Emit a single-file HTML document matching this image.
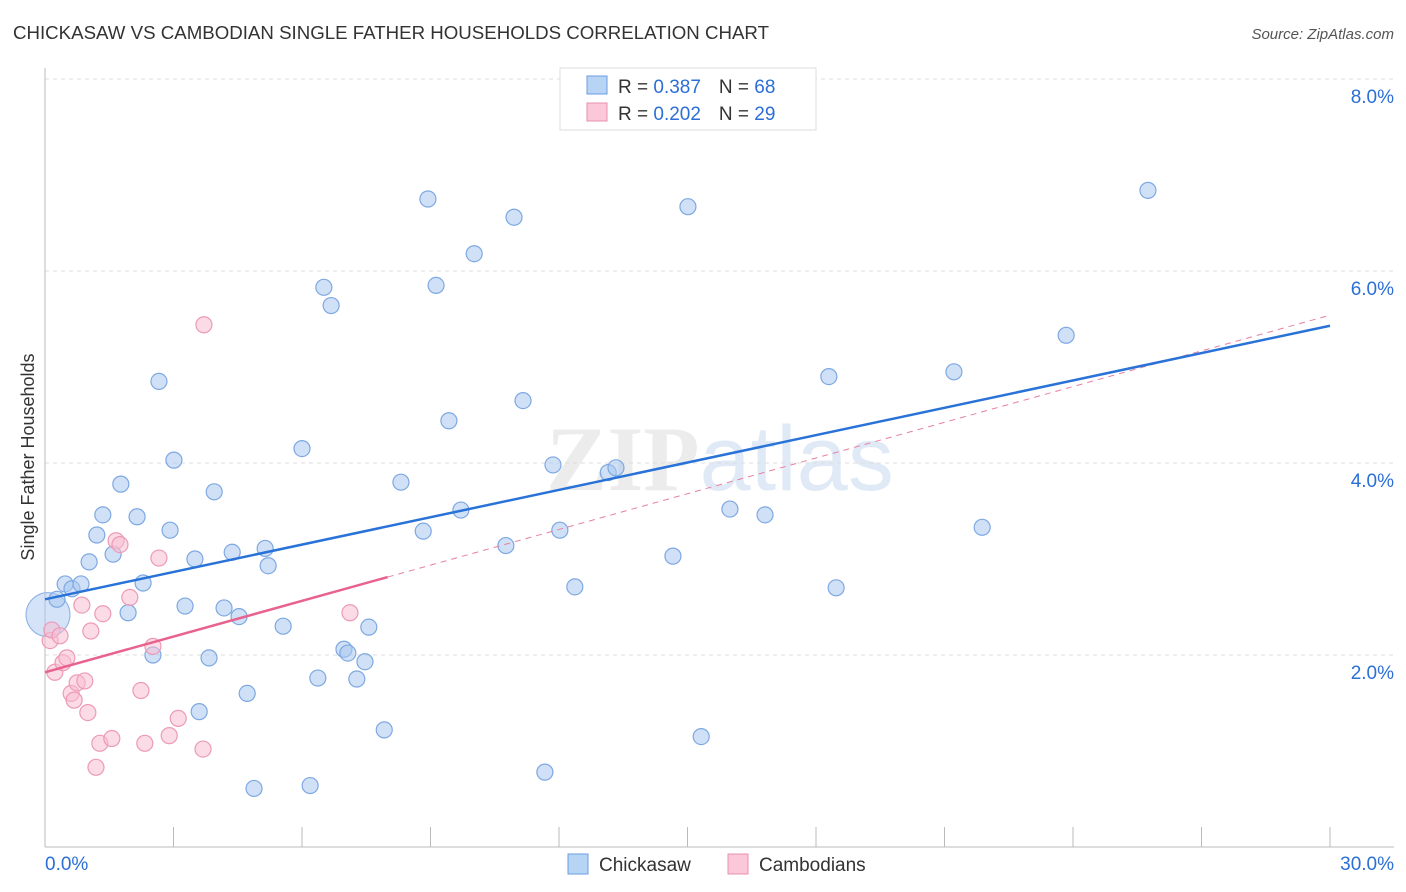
<!DOCTYPE html>
<html><head><meta charset="utf-8"><style>
body{margin:0;background:#fff;font-family:"Liberation Sans",sans-serif;}
svg{display:block}
</style></head><body>
<svg id="chart" width="1406" height="892">
<text x="13" y="39" font-size="18.5" fill="#333" textLength="756" lengthAdjust="spacingAndGlyphs">CHICKASAW VS CAMBODIAN SINGLE FATHER HOUSEHOLDS CORRELATION CHART</text>
<text x="1394" y="39" font-size="15" fill="#555" text-anchor="end" font-style="italic">Source: ZipAtlas.com</text>
<text x="720" y="490" font-size="92" fill="#ececec" text-anchor="middle" font-family="Liberation Serif,serif" font-weight="bold">ZIP<tspan fill="#e0eaf6" font-family="Liberation Sans,sans-serif" font-weight="normal">atlas</tspan></text>
<g id="grid"></g>
<g id="axes"></g>
<g id="marks"></g>
<text transform="translate(34,457) rotate(-90)" font-size="18" fill="#333" text-anchor="middle">Single Father Households</text>
<g>
<rect x="560" y="68" width="256" height="62" fill="#fff" stroke="#ddd"/>
<rect x="587" y="76" width="20" height="18" fill="#b8d4f5" stroke="#6a9be0"/>
<text x="618" y="93" font-size="19" fill="#333">R = <tspan fill="#2b6fd6">0.387</tspan><tspan dx="18">N = </tspan><tspan fill="#2b6fd6">68</tspan></text>
<rect x="587" y="103" width="20" height="18" fill="#fac8d8" stroke="#e890ac"/>
<text x="618" y="120" font-size="19" fill="#333">R = <tspan fill="#2b6fd6">0.202</tspan><tspan dx="18">N = </tspan><tspan fill="#2b6fd6">29</tspan></text>
</g>
<g>
<rect x="568" y="854" width="20" height="20" fill="#b8d4f5" stroke="#6a9be0"/>
<text x="599" y="871" font-size="19" fill="#333">Chickasaw</text>
<rect x="728" y="854" width="20" height="20" fill="#fac8d8" stroke="#e890ac"/>
<text x="759" y="871" font-size="19" fill="#333">Cambodians</text>
</g>
</svg>
<script>
const xTicks=[0,30];
const yTicks=[2,4,6,8];
const blueX=[0.28,0.47,0.63,0.84,1.03,1.21,1.35,1.59,1.77,1.94,2.15,2.29,2.52,2.66,2.92,3.01,3.27,3.50,3.60,3.83,3.95,4.18,4.37,4.53,4.72,4.88,5.14,5.21,5.56,6.00,6.19,6.37,6.51,6.68,6.98,7.07,7.28,7.47,7.56,7.92,8.31,8.83,8.94,9.13,9.43,9.71,10.02,10.76,10.95,11.16,11.67,11.86,12.02,12.37,13.15,13.33,14.66,15.01,15.32,15.99,16.81,18.30,18.47,21.22,21.88,23.84,25.75];
const blueY=[2.58,2.74,2.69,2.74,2.97,3.25,3.46,3.05,3.78,2.44,3.44,2.75,2.00,4.85,3.30,4.03,2.51,3.00,1.41,1.97,3.70,2.49,3.07,2.40,1.60,0.61,3.11,2.93,2.30,4.15,0.64,1.76,5.83,5.64,2.06,2.02,1.75,1.93,2.29,1.22,3.80,3.29,6.75,5.85,4.44,3.51,6.18,3.14,6.56,4.65,0.78,3.98,3.30,2.71,3.90,3.95,3.03,6.67,1.15,3.52,3.46,4.90,2.70,4.95,3.33,5.33,6.84];
const pinkX=[0.12,0.16,0.23,0.35,0.42,0.51,0.61,0.68,0.75,0.86,0.93,1.00,1.07,1.19,1.28,1.35,1.56,1.66,1.75,1.98,2.24,2.33,2.52,2.66,2.90,3.11,3.69,3.71,7.12];
const pinkY=[2.15,2.26,1.82,2.20,1.92,1.97,1.60,1.53,1.71,2.52,1.73,1.40,2.25,0.83,1.08,2.43,1.13,3.19,3.15,2.60,1.63,1.08,2.09,3.01,1.16,1.34,1.02,5.44,2.44];
const blueTrend=[2.58,5.43];
const pinkTrend=[1.82,5.54];
const pinkSolidEnd=8.0;
const sx=v=>45+v*(1285/30), sy=v=>847-v*96;
const NS="http://www.w3.org/2000/svg";
function mk(tag,attrs,parent){const e=document.createElementNS(NS,tag);for(const k in attrs)e.setAttribute(k,attrs[k]);parent.appendChild(e);return e;}
const grid=document.getElementById('grid'),axes=document.getElementById('axes'),marks=document.getElementById('marks');
yTicks.forEach(t=>{
 const l=mk('line',{x1:45,x2:1394,y1:sy(t),y2:sy(t),stroke:'#ddd','stroke-dasharray':'4,4'},grid);
 
 
 const tx=mk('text',{x:1394,y:sy(t)+24,'font-size':19,fill:'#2b6fd6','text-anchor':'end'},axes);
 tx.textContent=t.toFixed(1)+'%';
 
 
});
mk('line',{x1:45,x2:45,y1:68,y2:847,stroke:'#bbb'},axes);
mk('line',{x1:45,x2:1394,y1:847,y2:847,stroke:'#bbb'},axes);
for(let i=1;i<=10;i++){const x=sx(i*3);mk('line',{x1:x,x2:x,y1:827,y2:847,stroke:'#bbb'},axes);}
xTicks.forEach((t,i)=>{
 const tx=mk('text',{x:i==0?45:1394,y:870,'font-size':19,fill:'#2b6fd6','text-anchor':i==0?'start':'end'},axes);
 tx.textContent=t.toFixed(1)+'%';
 
 
});
const big=mk('circle',{cx:sx(0.07),cy:sy(2.42),r:22,fill:'rgba(170,200,240,0.5)',stroke:'#8ab0e6'},marks);


blueX.forEach((x,i)=>{
 const c=mk('circle',{cx:sx(x),cy:sy(blueY[i]),r:8,fill:'rgba(170,200,240,0.55)',stroke:'#7ea8e2','stroke-width':1.2},marks);
 
 
});
pinkX.forEach((x,i)=>{
 const c=mk('circle',{cx:sx(x),cy:sy(pinkY[i]),r:8,fill:'rgba(248,190,210,0.55)',stroke:'#ec9ab6','stroke-width':1.2},marks);
 
 
});
const pt=v=>pinkTrend[0]+(pinkTrend[1]-pinkTrend[0])*v/30;
const pd=mk('line',{x1:sx(pinkSolidEnd),y1:sy(pt(pinkSolidEnd)),x2:sx(30),y2:sy(pinkTrend[1]),stroke:'#e87fa0','stroke-width':1,'stroke-dasharray':'6,5'},marks);


const ps=mk('line',{x1:sx(0),y1:sy(pinkTrend[0]),x2:sx(pinkSolidEnd),y2:sy(pt(pinkSolidEnd)),stroke:'#e8628e','stroke-width':2.5},marks);


const bl=mk('line',{x1:sx(0),y1:sy(blueTrend[0]),x2:sx(30),y2:sy(blueTrend[1]),stroke:'#2872d8','stroke-width':2.5},marks);


</script>
</body></html>
